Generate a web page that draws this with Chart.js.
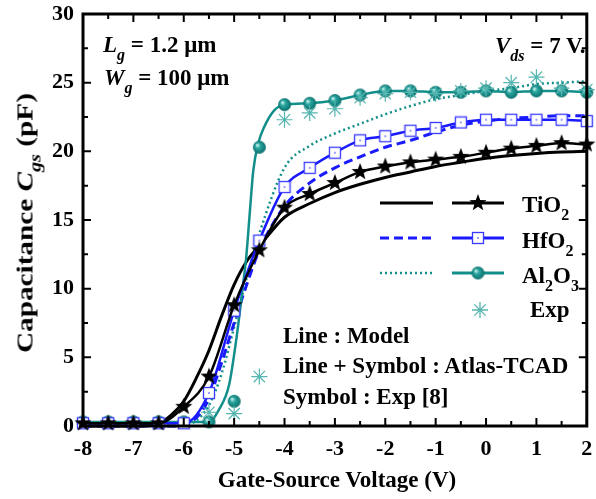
<!DOCTYPE html>
<html>
<head>
<meta charset="utf-8">
<script src="https://cdn.jsdelivr.net/npm/chart.js@4.4.0/dist/chart.umd.min.js"></script>
<style>
body { margin: 0; background: #fff; }
#wrap { position: relative; width: 596px; height: 499px; font-family: 'Liberation Serif', 'Times New Roman', serif; font-weight: bold; color: #000; }
#c { position: absolute; left: 0; top: 0; }
.t { position: absolute; white-space: nowrap; font-size: 23px; line-height: 23px; }
.t sub { font-size: 16px; line-height: 0; vertical-align: -8px; }
.t i { font-style: italic; }
</style>
</head>
<body>
<div id="wrap">
<canvas id="c" width="596" height="499"></canvas>
<div class="t" style="left:103px;top:33px"><i>L</i><sub><i>g</i></sub> = 1.2 μm</div>
<div class="t" style="left:104px;top:66px"><i>W</i><sub><i>g</i></sub> = 100 μm</div>
<div class="t" style="left:495px;top:34px"><i>V</i><sub><i>ds</i></sub> = 7 V.</div>
<div class="t" style="left:522px;top:193px">TiO<sub>2</sub></div>
<div class="t" style="left:522px;top:229px">HfO<sub>2</sub></div>
<div class="t" style="left:522px;top:264px">Al<sub>2</sub>O<sub>3</sub></div>
<div class="t" style="left:530px;top:298px">Exp</div>
<div class="t" style="left:283px;top:324px">Line : Model</div>
<div class="t" style="left:283px;top:354px">Line + Symbol : Atlas-TCAD</div>
<div class="t" style="left:283px;top:385px">Symbol : Exp [8]</div>
<div class="t" style="left:337px;top:468px;transform:translateX(-50%)">Gate-Source Voltage (V)</div>
<div class="t" style="left:25px;top:223px;transform:translate(-50%,-50%) rotate(-90deg) scaleX(1.27)">Capacitance <i>C</i><sub><i>gs</i></sub> (pF)</div>
</div>
<script>
// Atlas-TCAD points (every 0.5 V)
var vgsTcad = [-8, -7.5, -7, -6.5, -6, -5.5, -5, -4.5, -4, -3.5, -3, -2.5, -2, -1.5, -1, -0.5, 0, 0.5, 1, 1.5, 2];
var tio2Tcad = [0.2, 0.2, 0.2, 0.2, 1.4, 3.6, 8.8, 12.8, 15.9, 16.9, 17.7, 18.5, 18.9, 19.2, 19.4, 19.6, 19.9, 20.2, 20.4, 20.6, 20.5];
var hfo2Tcad = [0.2, 0.2, 0.2, 0.2, 0.2, 2.4, 8.4, 13.5, 17.4, 18.8, 19.9, 20.8, 21.1, 21.5, 21.7, 22.1, 22.3, 22.3, 22.3, 22.3, 22.2];
var al2o3Tcad = [0.3, 0.3, 0.3, 0.3, 0.3, 0.3, 1.8, 20.3, 23.4, 23.5, 23.7, 24.1, 24.4, 24.4, 24.3, 24.3, 24.4, 24.3, 24.4, 24.4, 24.3];

// Al2O3 TCAD curve as drawn
var vgsAlCurve = [-8, -5.5, -5.3, -5.1, -4.95, -4.82, -4.76, -4.69, -4.62, -4.52, -4.4, -4.2, -4, -3.5, -3, -2.5, -2, -1.5, -1, -0.5, 0, 0.5, 1, 1.5, 2];
var al2o3Curve = [0.3, 0.3, 1.2, 3.0, 6.5, 10.4, 12.3, 15.5, 18.6, 20.6, 21.8, 23.0, 23.4, 23.5, 23.7, 24.1, 24.4, 24.4, 24.3, 24.3, 24.4, 24.3, 24.4, 24.4, 24.3];

// model curves
var vgsModel = [-8, -7, -6.5, -6.25, -6, -5.75, -5.5, -5.25, -5, -4.75, -4.5, -4, -3.5, -3, -2.5, -2, -1.5, -1, -0.5, 0, 0.5, 1, 1.5, 2];
var tio2Model = [0, 0, 0.2, 0.8, 1.8, 3.5, 5.5, 8.0, 10.3, 12.0, 13.1, 15.2, 16.2, 17.0, 17.6, 18.1, 18.5, 18.9, 19.2, 19.5, 19.7, 19.85, 19.95, 20.0];
var hfo2Model = [0, 0, 0, 0, 0.1, 0.6, 2.0, 4.6, 7.5, 10.3, 12.8, 16.0, 17.7, 18.8, 19.6, 20.3, 20.8, 21.4, 21.9, 22.2, 22.4, 22.5, 22.6, 22.6];
var al2o3Model = [0, 0, 0, 0, 0.05, 0.4, 1.5, 3.8, 7.2, 10.8, 14.0, 18.8, 20.4, 21.3, 22.0, 22.7, 23.3, 23.8, 24.1, 24.4, 24.6, 24.9, 25.0, 25.1];

// experiment
var vgsExp = [-5.5, -5, -4.5, -4, -3.5, -3, -2.5, -2, -1.5, -1, -0.5, 0, 0.5, 1, 1.5, 2];
var capExp = [1.0, 0.9, 3.6, 22.3, 22.8, 23.1, 23.9, 24.2, 24.3, 24.2, 24.4, 24.6, 25.0, 25.4, 24.6, 24.5];

var xTicks = { min: -8, max: 2, step: 0.5 };
var yTicks = { min: 0, max: 30, step: 2.5 };

var BLACK = '#000000';
var BLUE = '#1a1aff';
var TEAL = '#138f8b';
var TEAL_EXP = '#55b5b0';

function pts(xs, ys) {
    return xs.map(function (x, i) { return { x: x, y: ys[i] }; });
}

function starImg(r) {
    var s = Math.ceil(r * 2 + 2);
    var c = document.createElement('canvas');
    c.width = c.height = s;
    var g = c.getContext('2d');
    g.fillStyle = BLACK;
    g.beginPath();
    for (var i = 0; i < 10; i++) {
        var a = -Math.PI / 2 + i * Math.PI / 5;
        var rr = i % 2 ? r * 0.42 : r;
        g.lineTo(s / 2 + rr * Math.cos(a), s / 2 + rr * Math.sin(a));
    }
    g.closePath();
    g.fill();
    return c;
}

function squareImg(w) {
    var s = w + 2;
    var c = document.createElement('canvas');
    c.width = c.height = s;
    var g = c.getContext('2d');
    g.fillStyle = '#fff';
    g.fillRect(1, 1, w, w);
    g.strokeStyle = '#3a3aff';
    g.lineWidth = 1.3;
    g.strokeRect(1.5, 1.5, w - 1, w - 1);
    g.fillStyle = '#3a3aff';
    g.fillRect(s / 2 - 0.7, s / 2 - 0.7, 1.4, 1.4);
    return c;
}

function sphereImg(r) {
    var s = Math.ceil(r * 2 + 2);
    var c = document.createElement('canvas');
    c.width = c.height = s;
    var g = c.getContext('2d');
    var gr = g.createRadialGradient(s / 2 - r * 0.35, s / 2 - r * 0.35, 0.5, s / 2, s / 2, r);
    gr.addColorStop(0, '#c9f0ec');
    gr.addColorStop(0.35, '#2aa6a0');
    gr.addColorStop(1, '#0b6f6b');
    g.fillStyle = gr;
    g.beginPath();
    g.arc(s / 2, s / 2, r, 0, Math.PI * 2);
    g.fill();
    return c;
}

var star = starImg(9);
var square = squareImg(12);
var sphere = sphereImg(6.5);

// inward ticks on all four sides + thick frame, plus the custom legend samples
var framePlugin = {
    id: 'framePlugin',
    afterDatasetsDraw: function (chart) {
        var ctx = chart.ctx, a = chart.chartArea;
        var xs = chart.scales.x, ys = chart.scales.y;
        ctx.save();
        ctx.strokeStyle = BLACK;
        ctx.lineWidth = 2;
        ctx.beginPath();
        for (var v = xTicks.min; v <= xTicks.max + 1e-9; v += xTicks.step) {
            var px = xs.getPixelForValue(v);
            var len = Number.isInteger(v) ? 8 : 5;
            ctx.moveTo(px, a.bottom); ctx.lineTo(px, a.bottom - len);
            ctx.moveTo(px, a.top); ctx.lineTo(px, a.top + len);
        }
        for (var w = yTicks.min; w <= yTicks.max + 1e-9; w += yTicks.step) {
            var py = ys.getPixelForValue(w);
            var l2 = (w % 5 === 0) ? 8 : 5;
            ctx.moveTo(a.left, py); ctx.lineTo(a.left + l2, py);
            ctx.moveTo(a.right, py); ctx.lineTo(a.right - l2, py);
        }
        ctx.stroke();
        ctx.lineWidth = 3;
        ctx.strokeRect(a.left, a.top, a.right - a.left, a.bottom - a.top);

        // legend samples
        var rows = [
            { y: 203, color: BLACK, dash: [], w: 3, img: star },
            { y: 238, color: BLUE, dash: [9, 5], w: 3, img: square },
            { y: 273, color: TEAL, dash: [2, 3], w: 2.5, img: sphere }
        ];
        rows.forEach(function (r) {
            ctx.strokeStyle = r.color;
            ctx.lineWidth = r.w;
            ctx.setLineDash(r.dash);
            ctx.beginPath(); ctx.moveTo(380, r.y); ctx.lineTo(433, r.y); ctx.stroke();
            ctx.setLineDash([]);
            ctx.lineWidth = 3;
            ctx.beginPath(); ctx.moveTo(452, r.y); ctx.lineTo(504, r.y); ctx.stroke();
            ctx.drawImage(r.img, 478 - r.img.width / 2, r.y - r.img.height / 2);
        });
        ctx.strokeStyle = TEAL_EXP;
        ctx.fillStyle = TEAL_EXP;
        ctx.lineWidth = 1.3;
        Chart.helpers.drawPoint(ctx, { pointStyle: 'star', radius: 8, rotation: 0, borderWidth: 1.3 }, 480, 310);
        ctx.restore();
    }
};

var tickFont = { family: "'Liberation Serif', 'Times New Roman', serif", size: 22, weight: 'bold' };

new Chart(document.getElementById('c').getContext('2d'), {
    type: 'line',
    data: {
        datasets: [
            {
                label: 'Exp', data: pts(vgsExp, capExp), showLine: false,
                pointStyle: 'star', pointRadius: 8, pointBorderColor: TEAL_EXP, pointBorderWidth: 1.2,
                pointBackgroundColor: TEAL_EXP
            },
            {
                label: 'TiO2 TCAD', data: pts(vgsTcad, tio2Tcad), borderColor: BLACK, borderWidth: 2.5,
                pointStyle: star, cubicInterpolationMode: 'monotone'
            },
            {
                label: 'HfO2 TCAD', data: pts(vgsTcad, hfo2Tcad), borderColor: BLUE, borderWidth: 2.5,
                pointStyle: square, cubicInterpolationMode: 'monotone'
            },
            {
                label: 'Al2O3 TCAD', data: pts(vgsTcad, al2o3Tcad), showLine: false, pointStyle: sphere
            },
            {
                label: 'Al2O3 TCAD line', data: pts(vgsAlCurve, al2o3Curve), borderColor: TEAL, borderWidth: 2.5,
                pointRadius: 0, cubicInterpolationMode: 'monotone'
            },
            {
                label: 'TiO2 model', data: pts(vgsModel, tio2Model), borderColor: BLACK, borderWidth: 3,
                pointRadius: 0, cubicInterpolationMode: 'monotone'
            },
            {
                label: 'HfO2 model', data: pts(vgsModel, hfo2Model), borderColor: BLUE, borderWidth: 3,
                borderDash: [9, 5], pointRadius: 0, cubicInterpolationMode: 'monotone'
            },
            {
                label: 'Al2O3 model', data: pts(vgsModel, al2o3Model), borderColor: TEAL, borderWidth: 2.5,
                borderDash: [2, 3], pointRadius: 0, cubicInterpolationMode: 'monotone'
            }
        ]
    },
    options: {
        responsive: false,
        animation: false,
        events: [],
        clip: false,
        layout: { padding: { left: 0, right: -4, top: 14, bottom: 0 } },
        plugins: { legend: { display: false }, tooltip: { enabled: false } },
        scales: {
            x: {
                type: 'linear', min: xTicks.min, max: xTicks.max,
                grid: { display: false, drawTicks: false },
                border: { display: false },
                ticks: {
                    stepSize: xTicks.step, autoSkip: false, maxRotation: 0, padding: 10,
                    color: BLACK, font: tickFont,
                    callback: function (v) { return Number.isInteger(v) ? String(v) : ''; }
                },
                afterFit: function (s) { s.height = 73; s.paddingLeft = 0; s.paddingRight = 0; }
            },
            y: {
                min: yTicks.min, max: yTicks.max,
                grid: { display: false, drawTicks: false },
                border: { display: false },
                ticks: {
                    stepSize: yTicks.step, autoSkip: false, padding: 9,
                    color: BLACK, font: tickFont,
                    callback: function (v) { return v % 5 === 0 ? String(v) : ''; }
                },
                afterFit: function (s) { s.width = 83; s.paddingTop = 0; s.paddingBottom = 0; }
            }
        }
    },
    plugins: [framePlugin]
});
</script>
</body>
</html>
